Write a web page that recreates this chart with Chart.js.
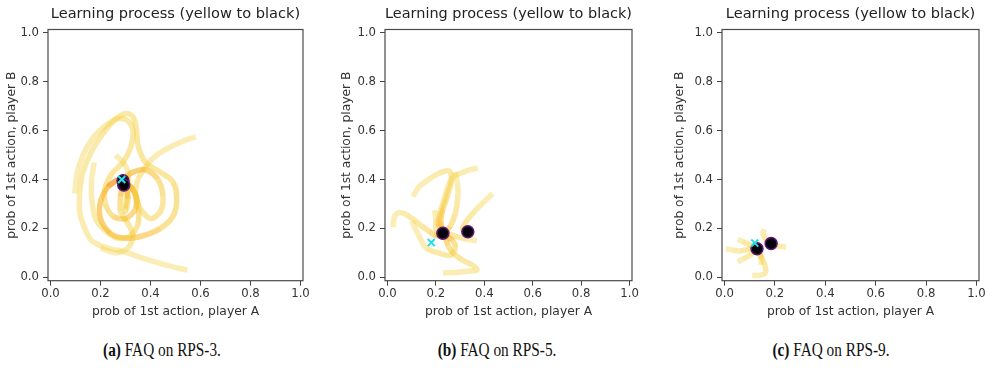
<!DOCTYPE html>
<html>
<head>
<meta charset="UTF-8">
<title>FAQ learning process</title>
<style>
  body { margin: 0; background: #fff; width: 992px; height: 370px; position: relative; overflow: hidden; }
  .panel { position: absolute; top: 0; }
  .cap { position: absolute; top: 340px; font-family: "Liberation Serif", serif; font-size: 18px; color: #111; transform: translateX(-50%) scaleX(0.85); white-space: nowrap; }
  .cap b { font-weight: bold; }
</style>
</head>
<body>
<div class="panel" id="p0"><canvas id="c0"></canvas></div>
<div class="panel" id="p1"><canvas id="c1"></canvas></div>
<div class="panel" id="p2"><canvas id="c2"></canvas></div>
<div class="cap" id="cap0"></div>
<div class="cap" id="cap1"></div>
<div class="cap" id="cap2"></div>

<script src="https://cdn.jsdelivr.net/npm/chart.js"></script>
<script>
// ---------- data ----------
const xTicks = [0, 0.2, 0.4, 0.6, 0.8, 1.0];
const yTicks = [0, 0.2, 0.4, 0.6, 0.8, 1.0];
const panelTitle = 'Learning process (yellow to black)';
const xLabel = 'prob of 1st action, player A';
const yLabel = 'prob of 1st action, player B';
const captionTags = ['(a)', '(b)', '(c)'];
const captionTexts = ['FAQ on RPS-3.', 'FAQ on RPS-5.', 'FAQ on RPS-9.'];

// RPS-3 trajectories (x = player A, y = player B)
const rps3Track1 = [[0.548,0.029],[0.455,0.052],[0.376,0.076],[0.296,0.104],[0.216,0.124],[0.163,0.152],[0.137,0.2],[0.117,0.267],[0.117,0.349],[0.13,0.431],[0.163,0.513],[0.21,0.588],[0.256,0.643],[0.303,0.67],[0.33,0.657],[0.343,0.61],[0.35,0.54],[0.38,0.47],[0.44,0.43],[0.49,0.39],[0.505,0.32],[0.49,0.25],[0.44,0.2],[0.37,0.17],[0.3,0.16],[0.24,0.18],[0.2,0.24],[0.2,0.31],[0.23,0.37],[0.27,0.4]];
const rps3Track2 = [[0.581,0.575],[0.522,0.554],[0.455,0.52],[0.409,0.486],[0.376,0.445],[0.35,0.4],[0.34,0.34],[0.36,0.28],[0.4,0.24],[0.44,0.27],[0.45,0.33],[0.43,0.4],[0.38,0.44],[0.33,0.43],[0.3,0.41]];
const rps3Track3 = [[0.097,0.343],[0.105,0.42],[0.13,0.5],[0.17,0.57],[0.22,0.62],[0.27,0.65],[0.31,0.64],[0.33,0.6],[0.32,0.53],[0.29,0.47],[0.25,0.43],[0.22,0.37],[0.22,0.3],[0.25,0.25],[0.3,0.24],[0.34,0.28],[0.34,0.34],[0.31,0.38]];
const rps3Track4 = [[0.175,0.47],[0.165,0.4],[0.165,0.32],[0.18,0.24],[0.22,0.19],[0.27,0.16],[0.32,0.17],[0.35,0.22],[0.35,0.3],[0.33,0.36],[0.3,0.39]];
const rps3Track5 = [[0.2,0.12],[0.26,0.1],[0.31,0.12],[0.33,0.17],[0.31,0.22],[0.28,0.27],[0.28,0.33],[0.29,0.38]];
const rps3Track6 = [[0.26,0.5],[0.29,0.47],[0.31,0.43],[0.31,0.36],[0.3,0.3],[0.3,0.27],[0.31,0.32],[0.3,0.38]];
const rps3Ends = [[0.29,0.395],[0.293,0.378]];
const rps3Nash = [[0.285,0.40]];

// RPS-5 trajectories
const rps5Track1 = [[0.373,0.447],[0.34,0.44],[0.30,0.425],[0.27,0.41],[0.25,0.37],[0.235,0.32],[0.22,0.27],[0.21,0.22],[0.225,0.19],[0.23,0.18]];
const rps5Track2 = [[0.105,0.33],[0.13,0.37],[0.17,0.40],[0.21,0.425],[0.255,0.435],[0.265,0.40],[0.25,0.34],[0.23,0.28],[0.22,0.23],[0.23,0.185]];
const rps5Track3 = [[0.435,0.342],[0.40,0.31],[0.36,0.27],[0.33,0.235],[0.31,0.20],[0.32,0.185],[0.33,0.183]];
const rps5Track4 = [[0.023,0.205],[0.03,0.25],[0.05,0.265],[0.08,0.255],[0.11,0.235],[0.14,0.21],[0.17,0.19],[0.19,0.175],[0.21,0.17],[0.225,0.178]];
const rps5Track5 = [[0.23,0.018],[0.28,0.02],[0.33,0.025],[0.37,0.03],[0.35,0.05],[0.31,0.07],[0.27,0.10],[0.25,0.13],[0.24,0.16],[0.23,0.178]];
const rps5Track6 = [[0.10,0.23],[0.13,0.17],[0.16,0.12],[0.21,0.10],[0.26,0.09],[0.28,0.12],[0.27,0.15],[0.24,0.17]];
const rps5Track7 = [[0.37,0.15],[0.33,0.155],[0.29,0.165],[0.26,0.175],[0.235,0.18]];
const rps5Track8 = [[0.28,0.43],[0.29,0.38],[0.29,0.32],[0.28,0.26],[0.26,0.21],[0.24,0.185]];
const rps5Track9 = [[0.195,0.275],[0.2,0.24],[0.2,0.2],[0.21,0.17],[0.23,0.18]];
const rps5Ends = [[0.229,0.180],[0.332,0.186]];
const rps5Nash = [[0.181,0.142]];

// RPS-9 trajectories
const rps9Track1 = [[0.005,0.117],[0.03,0.112],[0.06,0.108],[0.09,0.113],[0.115,0.117],[0.13,0.117]];
const rps9Track2 = [[0.053,0.155],[0.07,0.147],[0.09,0.137],[0.11,0.128],[0.128,0.12]];
const rps9Track3 = [[0.158,0.197],[0.152,0.18],[0.16,0.16],[0.172,0.145],[0.185,0.138]];
const rps9Track4 = [[0.245,0.124],[0.228,0.126],[0.21,0.128],[0.195,0.135],[0.186,0.138]];
const rps9Track5 = [[0.053,0.063],[0.075,0.075],[0.10,0.09],[0.12,0.105],[0.13,0.115]];
const rps9Track6 = [[0.11,0.008],[0.14,0.008],[0.163,0.02],[0.16,0.05],[0.15,0.075],[0.14,0.095],[0.135,0.11]];
const rps9Track7 = [[0.145,0.05],[0.145,0.075],[0.14,0.1],[0.135,0.115]];
const rps9Ends = [[0.129,0.117],[0.185,0.138]];
const rps9Nash = [[0.12,0.14]];

// ---------- layout / style ----------
const frameLeft = [48, 385, 722];
const frameRight = [303, 632, 979];
const axisW = [46, 48, 52];
const CANVAS_H = 330;
const AREA_TOP = 29.5;
const AREA_BOTTOM = 280.7;
const PAD_R = 10;
const captionX = [162, 497, 831];

// yellow -> orange along each trajectory (the black end is drawn as dots)
const cmapStops = [0, 0.65, 0.9, 1];
const cmapColours = [[244,214,80,0.42],[245,204,55,0.5],[248,178,30,0.6],[242,150,22,0.72]];

function trackColour(t) {
  t = Math.round(Math.min(Math.max(t, 0), 1) * 10) / 10;
  let k = 0;
  while (k < cmapStops.length - 2 && t > cmapStops[k + 1]) k++;
  const f = (t - cmapStops[k]) / (cmapStops[k + 1] - cmapStops[k]);
  const a = cmapColours[k], b = cmapColours[k + 1];
  const c = a.map((v, j) => v + (b[j] - v) * f);
  return 'rgba(' + Math.round(c[0]) + ',' + Math.round(c[1]) + ',' + Math.round(c[2]) + ',' + c[3].toFixed(2) + ')';
}

function toXY(arr) { return arr.map(p => ({x: p[0], y: p[1]})); }

const panels = [
  {tracks: [rps3Track1, rps3Track2, rps3Track3, rps3Track4, rps3Track5, rps3Track6], ends: rps3Ends, nash: rps3Nash},
  {tracks: [rps5Track1, rps5Track2, rps5Track3, rps5Track4, rps5Track5, rps5Track6, rps5Track7, rps5Track8, rps5Track9], ends: rps5Ends, nash: rps5Nash},
  {tracks: [rps9Track1, rps9Track2, rps9Track3, rps9Track4, rps9Track5, rps9Track6, rps9Track7], ends: rps9Ends, nash: rps9Nash}
];

// box around the plot area, like matplotlib
const framePlugin = {
  id: 'frame',
  afterDatasetsDraw(chart) {
    const a = chart.chartArea, c = chart.ctx;
    c.save();
    c.strokeStyle = '#4a4a4a';
    c.lineWidth = 1.2;
    c.strokeRect(a.left, a.top, a.right - a.left, a.bottom - a.top);
    c.restore();
  }
};

const tickFont = {family: 'DejaVu Sans', size: 11.7};
const labelFont = {family: 'DejaVu Sans', size: 12.3};

panels.forEach(function(p, i) {
  const left = frameLeft[i] - axisW[i];
  const canvas = document.getElementById('c' + i);
  document.getElementById('p' + i).style.left = left + 'px';
  canvas.width = frameRight[i] - left + PAD_R;
  canvas.height = CANVAS_H;

  const datasets = [];
  datasets.push({
    data: toXY(p.nash), pointStyle: 'crossRot', pointRadius: 5,
    borderColor: '#1fe3e6', backgroundColor: '#1fe3e6', borderWidth: 2
  });
  datasets.push({
    data: toXY(p.ends), pointRadius: 6,
    backgroundColor: '#07030c', borderColor: '#5e1a72', borderWidth: 1.5
  });
  p.tracks.forEach(function(tr) {
    datasets.push({
      data: toXY(tr), showLine: true, pointRadius: 0, borderWidth: 5.5, tension: 0.3,
      borderCapStyle: 'butt', borderJoinStyle: 'round', borderColor: trackColour(0),
      segment: { borderColor: ctx => trackColour(ctx.p0DataIndex / (tr.length - 1)) }
    });
  });

  new Chart(canvas, {
    type: 'scatter',
    data: { datasets: datasets },
    plugins: [framePlugin],
    options: {
      responsive: false,
      animation: false,
      events: [],
      layout: { padding: { left: 0, right: PAD_R, top: 0, bottom: 0 } },
      plugins: { legend: { display: false }, tooltip: { enabled: false }, title: { display: false } },
      scales: {
        x: {
          type: 'linear', position: 'bottom', min: -0.01, max: 1.01,
          afterBuildTicks: s => { s.ticks = xTicks.map(v => ({value: v})); },
          afterFit: s => { s.height = CANVAS_H - AREA_BOTTOM; },
          ticks: { callback: v => v.toFixed(1), color: '#333', font: tickFont, padding: 1, maxRotation: 0, autoSkip: false },
          grid: { display: true, drawOnChartArea: false, drawTicks: true, tickLength: 5, color: '#444' },
          border: { display: false },
          title: { display: true, text: xLabel, color: '#333', font: labelFont, padding: { top: 0, bottom: 10.6 } }
        },
        y: {
          type: 'linear', position: 'left', min: -0.014, max: 1.014,
          afterBuildTicks: s => { s.ticks = yTicks.map(v => ({value: v})); },
          afterFit: s => { s.width = axisW[i]; },
          ticks: { callback: v => v.toFixed(1), color: '#333', font: tickFont, padding: 4, autoSkip: false },
          grid: { display: true, drawOnChartArea: false, drawTicks: true, tickLength: 5, color: '#444' },
          border: { display: false },
          title: { display: true, text: yLabel, color: '#333', font: labelFont, padding: { top: 2, bottom: 0 } }
        },
        top: {
          type: 'linear', position: 'top', axis: 'x',
          ticks: { display: false }, grid: { display: false }, border: { display: false },
          afterFit: s => { s.height = AREA_TOP; },
          title: { display: true, text: panelTitle, color: '#222', font: {family: 'DejaVu Sans', size: 14.6}, padding: { top: 5.5, bottom: 0 } }
        }
      }
    }
  });

  const cap = document.getElementById('cap' + i);
  cap.style.left = captionX[i] + 'px';
  cap.innerHTML = '<b>' + captionTags[i] + '</b> ' + captionTexts[i];
});
</script>
</body>
</html>
